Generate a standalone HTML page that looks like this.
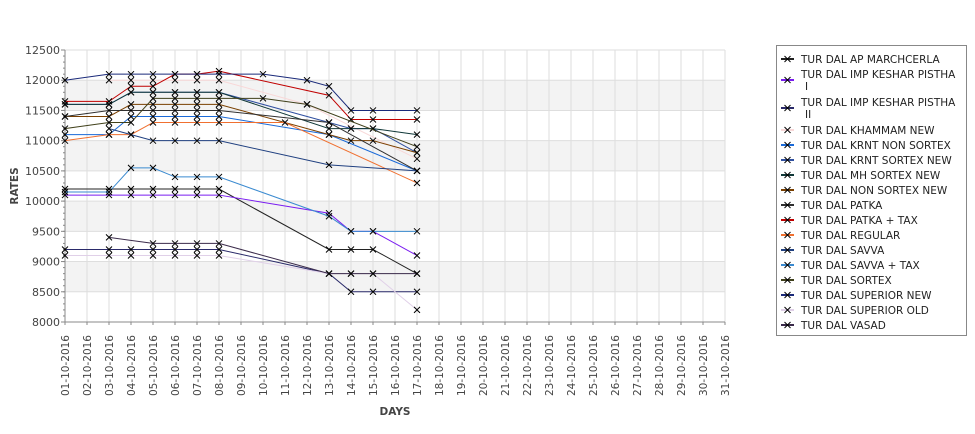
<!DOCTYPE html>
<html><head><meta charset="utf-8"><style>
body{margin:0;background:#fff;font-family:"Liberation Sans","DejaVu Sans",sans-serif}
svg text{font-family:"DejaVu Sans","Liberation Sans",sans-serif}
</style></head><body>
<svg id="chart" width="975" height="429"></svg>
<script>
const dates=[];for(let d=1;d<=31;d++)dates.push((d<10?'0':'')+d+'-10-2016');
const yTicks=[8000,8500,9000,9500,10000,10500,11000,11500,12000,12500];
const names=["TUR DAL AP MARCHCERLA","TUR DAL IMP KESHAR PISTHA I","TUR DAL IMP KESHAR PISTHA II","TUR DAL KHAMMAM NEW","TUR DAL KRNT NON SORTEX","TUR DAL KRNT SORTEX NEW","TUR DAL MH SORTEX NEW","TUR DAL NON SORTEX NEW","TUR DAL PATKA","TUR DAL PATKA + TAX","TUR DAL REGULAR","TUR DAL SAVVA","TUR DAL SAVVA + TAX","TUR DAL SORTEX","TUR DAL SUPERIOR NEW","TUR DAL SUPERIOR OLD","TUR DAL VASAD"];
const colors=["#222222","#7a1cf0","#2a2a6a","#f8d8d8","#1a6ad8","#3050a0","#103838","#7a4000","#303030","#c00000","#f07030","#204080","#3a8ad0","#40401a","#1a2a7a","#e0d0e8","#3a2a4a"];
const days=[
 [0,2,3,4,5,6,7,12,13,14,16],
 [0,2,3,4,5,6,7,12,13,14,16],
 [0,2,3,4,5,6,7,12,13,14,16],
 [2,3,4,5,6,7,11,16],
 [0,2,3,4,5,6,7,12,16],
 [0,2,3,4,5,6,7,12,13,14,16],
 [0,2,3,4,5,6,7,12,13,14,16],
 [0,2,3,4,5,6,7,12,13,14,16],
 [0,2,3,4,5,6,7,12,16],
 [0,2,3,4,5,6,7,12,13,14,16],
 [0,2,3,4,5,6,7,10,16],
 [2,3,4,5,6,7,12,16],
 [0,2,3,4,5,6,7,12,13,14,16],
 [0,2,3,4,5,6,7,9,11,16],
 [0,2,3,4,5,6,7,9,11,12,13,14,16],
 [0,2,3,4,5,6,7,12,13,14,16],
 [2,4,5,6,7,12,13,14,16]];
const vals=[
 [10200,10200,10200,10200,10200,10200,10200,9200,9200,9200,8800],
 [10100,10100,10100,10100,10100,10100,10100,9800,9500,9500,9100],
 [9200,9200,9200,9200,9200,9200,9200,8800,8500,8500,8500],
 [12000,12000,12000,12000,12000,12000,11600,10700],
 [11100,11100,11400,11400,11400,11400,11400,11100,10500],
 [11600,11600,11800,11800,11800,11800,11800,11300,11200,11200,10800],
 [11600,11600,11800,11800,11800,11800,11800,11200,11200,11200,11100],
 [11400,11400,11600,11600,11600,11600,11600,11100,11000,11000,10800],
 [11400,11500,11500,11500,11500,11500,11500,11300,10500],
 [11650,11650,11900,11900,12100,12100,12150,11750,11350,11350,11350],
 [11000,11100,11100,11300,11300,11300,11300,11300,10300],
 [11200,11100,11000,11000,11000,11000,10600,10500],
 [10150,10150,10550,10550,10400,10400,10400,9750,9500,9500,9500],
 [11200,11300,11300,11700,11700,11700,11700,11700,11600,10900],
 [12000,12100,12100,12100,12100,12100,12100,12100,12000,11900,11500,11500,11500],
 [9100,9100,9100,9100,9100,9100,9100,8800,8800,8800,8200],
 [9400,9300,9300,9300,9300,8800,8800,8800,8800]];
const X0=65,X1=725,Y0=322,Y1=50,vmin=8000,vmax=12500;
const xs=i=>X0+i*(X1-X0)/30, ys=v=>Y0-(v-vmin)/(vmax-vmin)*(Y0-Y1);
const NS='http://www.w3.org/2000/svg',svg=document.getElementById('chart');
function mk(t,a,p){const e=document.createElementNS(NS,t);for(const k in a)e.setAttribute(k,a[k]);(p||svg).appendChild(e);return e;}
// bands
for(let i=0;i<yTicks.length-1;i++){if(i%2==1){const r=mk('rect',{x:X0,y:ys(yTicks[i+1]),width:X1-X0,height:ys(yTicks[i])-ys(yTicks[i+1]),fill:'#f3f3f3'});

}}
dates.forEach((d,i)=>{const l=mk('line',{x1:xs(i),x2:xs(i),y1:Y1,y2:Y0,stroke:'#dedede'});


const t=mk('text',{x:0,y:0,transform:`translate(${xs(i)+4},335) rotate(-90)`,'text-anchor':'end','font-size':'10.5',fill:'#444'});t.textContent=d;


mk('line',{x1:xs(i),x2:xs(i),y1:Y0,y2:Y0+3,stroke:'#888'});});
yTicks.forEach(v=>{const l=mk('line',{x1:X0,x2:X1,y1:ys(v),y2:ys(v),stroke:'#dedede'});


const t=mk('text',{x:X0-5,y:ys(v)+4,'text-anchor':'end','font-size':'11',fill:'#444'});t.textContent=v;


mk('line',{x1:X0-4,x2:X0,y1:ys(v),y2:ys(v),stroke:'#888'});});
for(let v=vmin;v<vmax;v+=100){mk('line',{x1:X0-2,x2:X0,y1:ys(v),y2:ys(v),stroke:'#888'});}
mk('line',{x1:X0,x2:X0,y1:Y1,y2:Y0,stroke:'#888'});mk('line',{x1:X0,x2:X1,y1:Y0,y2:Y0,stroke:'#888'});
function cross(x,y,p){mk('path',{d:`M${x-3},${y-3}L${x+3},${y+3}M${x-3},${y+3}L${x+3},${y-3}`,stroke:'#000','stroke-width':1},p);}
names.forEach((n,s)=>{const g=mk('g',{});


const pts=days[s].map((d,i)=>xs(d)+','+ys(vals[s][i])).join(' ');
const pl=mk('polyline',{points:pts,fill:'none',stroke:colors[s],'stroke-width':1},g);


days[s].forEach((d,i)=>cross(xs(d),ys(vals[s][i]),g));});
const yt=mk('text',{x:0,y:0,transform:'translate(18,186) rotate(-90)','text-anchor':'middle','font-size':'10.5','font-weight':'bold',fill:'#444'});yt.textContent='RATES';


const xt=mk('text',{x:395,y:415,'text-anchor':'middle','font-size':'10.5','font-weight':'bold',fill:'#444'});xt.textContent='DAYS';


// legend
const lg=mk('g',{});


mk('rect',{x:776.5,y:45.5,width:190,height:290,fill:'#fff',stroke:'#888'},lg);
let y=59;
names.forEach((n,s)=>{const e=mk('g',{},lg);


let two=n.indexOf('PISTHA ')>0;
const my=two?y+6:y;
mk('line',{x1:781,x2:794,y1:my,y2:my,stroke:colors[s],'stroke-width':2},e);cross(787.5,my,e);
if(two){const parts=n.split('PISTHA ');
const t1=mk('text',{x:801,y:y+4,'font-size':'10.5',fill:'#222'},e);t1.textContent=parts[0]+'PISTHA';
const t2=mk('text',{x:805,y:y+16,'font-size':'10.5',fill:'#222'},e);t2.textContent=parts[1];y+=28;}
else{const t=mk('text',{x:801,y:y+4,'font-size':'10.5',fill:'#222'},e);t.textContent=n;y+=15;}});
</script>
</body></html>
